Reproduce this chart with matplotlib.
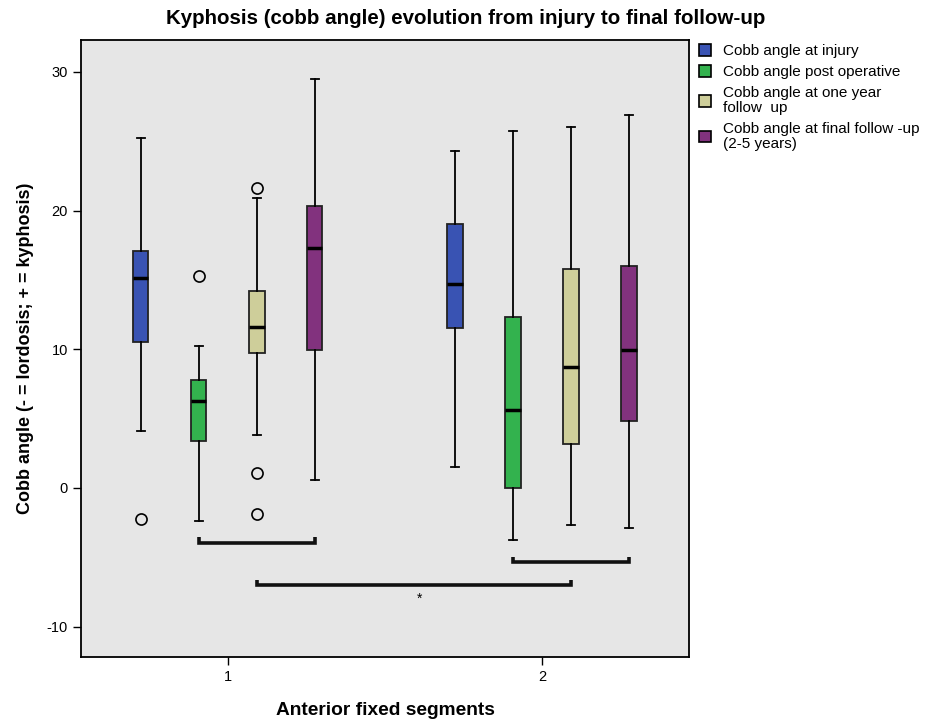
import matplotlib
matplotlib.use("Agg")
import matplotlib.pyplot as plt
from matplotlib.patches import Patch

plt.rcParams['font.family'] = ['Liberation Sans', 'DejaVu Sans']
plt.rcParams['axes.unicode_minus'] = False

groups = ["1", "2"]
series = ["Cobb angle at injury", "Cobb angle post operative",
          "Cobb angle at one year\nfollow  up",
          "Cobb angle at final follow -up\n(2-5 years)"]
colors = ["#3953B3", "#33B24E", "#CECE9A", "#82327E"]

# [group][series] -> (whislo, q1, med, q3, whishi)
whislo = [[4.1, -2.4, 3.8, 0.6], [1.5, -3.75, -2.7, -2.9]]
q1     = [[10.5, 3.4, 9.7, 9.95], [11.5, 0.0, 3.2, 4.8]]
med    = [[15.1, 6.3, 11.6, 17.3], [14.7, 5.6, 8.75, 9.95]]
q3     = [[17.1, 7.8, 14.2, 20.3], [19.0, 12.3, 15.75, 16.0]]
whishi = [[25.2, 10.2, 20.9, 29.5], [24.3, 25.7, 26.0, 26.9]]
fliers = [[[-2.2], [15.3], [21.6, 1.1, -1.9], []], [[], [], [], []]]

# significance brackets: (group, series_from, group, series_to, level)
brackets = [(0, 1, 0, 3, -3.93), (1, 1, 1, 3, -5.36), (0, 2, 1, 2, -7.0)]
star_label = "*"

offsets = [-0.277, -0.0924, 0.0924, 0.277]
bw = 0.048

fig = plt.figure(figsize=(9.36, 7.23), dpi=100)
ax = fig.add_axes([0.0865, 0.0913, 0.6496, 0.8534])
ax.set_facecolor("#E6E6E6")

def pos(g, s):
    return g + 1 + offsets[s]

for g in range(2):
    for s in range(4):
        st = dict(med=med[g][s], q1=q1[g][s], q3=q3[g][s],
                  whislo=whislo[g][s], whishi=whishi[g][s],
                  fliers=fliers[g][s])
        ax.bxp([st], positions=[pos(g, s)], widths=bw, patch_artist=True,
               showfliers=True,
               boxprops=dict(facecolor=colors[s], edgecolor="#222222", linewidth=1.3),
               medianprops=dict(color="black", linewidth=2.5),
               whiskerprops=dict(color="black", linewidth=1.3),
               capprops=dict(color="black", linewidth=1.3),
               capwidths=0.026,
               flierprops=dict(marker="o", markerfacecolor="none",
                               markeredgecolor="black", markersize=8,
                               markeredgewidth=1.2))

h = 0.4
for g1, s1, g2, s2, lvl in brackets:
    x1, x2 = pos(g1, s1), pos(g2, s2)
    ax.plot([x1, x1, x2, x2], [lvl + h, lvl, lvl, lvl + h], color="#111111",
            linewidth=2.6, solid_joinstyle="miter", solid_capstyle="butt")
ax.text(1.61, -7.95, star_label, ha="center", va="center", fontsize=10)

ax.set_xlim(0.532, 2.468)
ax.set_ylim(-12.18, 32.29)
ax.set_xticks([1, 2])
ax.set_xticklabels(groups)
ax.set_yticks([30, 20, 10, 0, -10])
ax.tick_params(axis="both", direction="out", length=6, width=1, labelsize=10.5,
               colors="black")
for sp in ax.spines.values():
    sp.set_linewidth(1.3)

ax.set_xlabel("Anterior fixed segments", fontsize=13.8, fontweight="bold", labelpad=13)
ax.set_ylabel("Cobb angle (- = lordosis; + = kyphosis)", fontsize=13,
              fontweight="bold", labelpad=9)
fig.text(0.497, 0.975, "Kyphosis (cobb angle) evolution from injury to final follow-up",
         ha="center", va="center", fontsize=14.8, fontweight="bold")

handles = [Patch(facecolor=c, edgecolor="black", linewidth=1.2) for c in colors]
leg = fig.legend(handles, series, loc="upper left", bbox_to_anchor=(0.7468, 0.939),
                 frameon=False, fontsize=11, handlelength=0.8, handleheight=0.8,
                 handletextpad=0.75, labelspacing=0.45, borderaxespad=0,
                 borderpad=0)
for t in leg.get_texts():
    t.set_linespacing(1.08)

fig.savefig("out.png", dpi=100, facecolor="white")
